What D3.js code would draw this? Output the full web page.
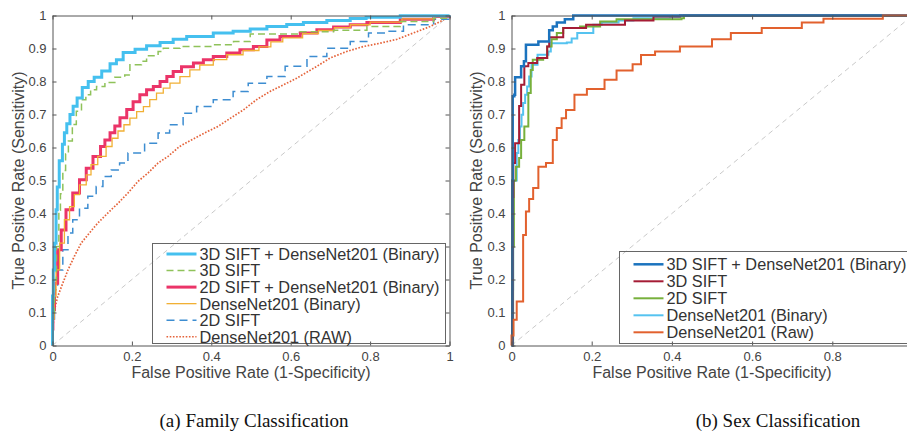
<!DOCTYPE html>
<html>
<head>
<meta charset="utf-8">
<script src="https://cdn.jsdelivr.net/npm/d3@7"></script>
<style>
  body { margin: 0; background: #fff; }
  svg { display: block; font-family: "Liberation Sans", Arial, sans-serif; }
  .domain, .tick line { stroke: #555; }
  .tick text { fill: #444; font-size: 13px; }
</style>
</head>
<body>
<svg id="chart" width="907" height="433"></svg>
<script>
// tick values shared by both panels
const xTicks = [0, 0.2, 0.4, 0.6, 0.8, 1];
const yTicks = [0, 0.1, 0.2, 0.3, 0.4, 0.5, 0.6, 0.7, 0.8, 0.9, 1];

const xLabel = "False Positive Rate (1-Specificity)";
const yLabel = "True Positive Rate (Sensitivity)";

// (a) family classification, [fpr, tpr] step corners
const famLegend = ["3D SIFT + DenseNet201 (Binary)", "3D SIFT", "2D SIFT + DenseNet201 (Binary)",
                   "DenseNet201 (Binary)", "2D SIFT", "DenseNet201 (RAW)"];

const fam3dSiftDense = [[0,0],[0,0.15],[0.002,0.229],[0.005,0.31],[0.009,0.411],[0.012,0.48],[0.017,0.56],
  [0.025,0.61],[0.03,0.645],[0.036,0.672],[0.044,0.7],[0.052,0.725],[0.062,0.75],[0.075,0.782],[0.09,0.8],
  [0.105,0.813],[0.124,0.832],[0.145,0.854],[0.161,0.866],[0.178,0.888],[0.208,0.898],[0.237,0.908],
  [0.271,0.918],[0.304,0.928],[0.338,0.936],[0.405,0.947],[0.455,0.952],[0.498,0.959],[0.54,0.967],
  [0.59,0.973],[0.632,0.979],[0.691,0.985],[0.75,0.991],[0.79,0.995],[0.876,0.999],[1,1]];

const fam3dSift = [[0,0],[0,0.1],[0.005,0.2],[0.01,0.3],[0.016,0.41],[0.02,0.46],[0.026,0.53],[0.033,0.58],
  [0.04,0.62],[0.05,0.67],[0.06,0.71],[0.073,0.745],[0.084,0.76],[0.096,0.775],[0.111,0.785],[0.132,0.797],
  [0.157,0.813],[0.182,0.82],[0.195,0.851],[0.224,0.861],[0.237,0.878],[0.266,0.891],[0.279,0.901],
  [0.321,0.906],[0.405,0.911],[0.456,0.921],[0.498,0.944],[0.624,0.951],[0.708,0.955],[0.792,0.967],
  [0.876,0.982],[0.96,0.992],[1,1]];

const fam2dSiftDense = [[0,0],[0,0.05],[0.001,0.108],[0.005,0.189],[0.013,0.29],[0.022,0.35],[0.034,0.411],
  [0.051,0.462],[0.068,0.502],[0.085,0.537],[0.102,0.573],[0.121,0.603],[0.132,0.623],[0.145,0.645],
  [0.157,0.665],[0.17,0.69],[0.187,0.715],[0.203,0.739],[0.22,0.76],[0.237,0.775],[0.254,0.785],
  [0.271,0.8],[0.288,0.815],[0.304,0.83],[0.325,0.845],[0.355,0.856],[0.38,0.866],[0.405,0.876],
  [0.439,0.886],[0.472,0.896],[0.506,0.906],[0.54,0.926],[0.573,0.936],[0.624,0.947],[0.666,0.957],
  [0.708,0.965],[0.75,0.972],[0.792,0.979],[0.876,0.989],[0.96,0.997],[1,1]];

const famDenseBinary = [[0,0],[0,0.08],[0.004,0.15],[0.009,0.229],[0.018,0.31],[0.03,0.381],[0.043,0.421],
  [0.055,0.457],[0.068,0.487],[0.085,0.517],[0.097,0.548],[0.114,0.573],[0.135,0.603],[0.15,0.628],
  [0.165,0.65],[0.18,0.669],[0.195,0.689],[0.212,0.709],[0.229,0.724],[0.245,0.745],[0.262,0.765],
  [0.279,0.78],[0.296,0.795],[0.321,0.815],[0.346,0.835],[0.371,0.85],[0.405,0.866],[0.439,0.881],
  [0.48,0.894],[0.52,0.905],[0.55,0.92],[0.58,0.932],[0.63,0.945],[0.67,0.955],[0.71,0.963],[0.75,0.972],
  [0.8,0.98],[0.88,0.99],[0.96,0.997],[1,1]];

const fam2dSift = [[0,0],[0,0.08],[0.005,0.169],[0.013,0.229],[0.026,0.29],[0.039,0.341],[0.051,0.381],
  [0.068,0.416],[0.089,0.452],[0.11,0.482],[0.127,0.512],[0.148,0.532],[0.169,0.553],[0.19,0.583],
  [0.232,0.613],[0.266,0.644],[0.295,0.669],[0.329,0.704],[0.363,0.724],[0.405,0.745],[0.455,0.77],
  [0.493,0.795],[0.54,0.815],[0.586,0.846],[0.641,0.876],[0.691,0.901],[0.75,0.921],[0.796,0.947],
  [0.842,0.952],[0.884,0.972],[0.96,0.989],[1,1]];

const famDenseRaw = [[0,0],[0,0.03],[0.002,0.068],[0.005,0.108],[0.013,0.148],[0.026,0.189],[0.039,0.229],
  [0.055,0.27],[0.072,0.31],[0.093,0.341],[0.114,0.371],[0.139,0.401],[0.165,0.431],[0.19,0.462],
  [0.215,0.497],[0.24,0.522],[0.266,0.553],[0.291,0.573],[0.32,0.603],[0.35,0.623],[0.383,0.644],
  [0.417,0.664],[0.446,0.687],[0.481,0.714],[0.514,0.745],[0.548,0.77],[0.582,0.79],[0.615,0.81],
  [0.666,0.846],[0.699,0.871],[0.741,0.891],[0.783,0.906],[0.825,0.916],[0.868,0.928],[0.909,0.947],
  [0.952,0.967],[0.985,0.987],[1,1]];

// (b) sex classification
const sexLegend = ["3D SIFT + DenseNet201 (Binary)", "3D SIFT", "2D SIFT", "DenseNet201 (Binary)", "DenseNet201 (Raw)"];

const sex3dSiftDense = [[0,0],[0.002,0.5],[0.003,0.755],[0.007,0.76],[0.009,0.813],[0.024,0.846],
  [0.031,0.861],[0.036,0.911],[0.067,0.921],[0.094,0.955],[0.103,0.967],[0.113,0.979],[0.133,0.989],
  [0.154,1],[1,1]];

const sex3dSift = [[0,0],[0.003,0.45],[0.0045,0.553],[0.009,0.613],[0.019,0.726],[0.024,0.79],
  [0.032,0.846],[0.042,0.856],[0.064,0.871],[0.089,0.906],[0.094,0.934],[0.129,0.962],[0.186,0.972],
  [0.283,0.985],[0.354,0.997],[0.42,1],[1,1]];

const sex2dSift = [[0,0],[0.004,0.3],[0.006,0.5],[0.011,0.542],[0.019,0.568],[0.024,0.623],[0.032,0.664],
  [0.042,0.765],[0.048,0.835],[0.053,0.866],[0.079,0.871],[0.089,0.906],[0.1,0.928],[0.113,0.947],
  [0.129,0.962],[0.171,0.967],[0.221,0.982],[0.262,0.989],[0.424,0.992],[0.43,1],[1,1]];

const sexDenseBinary = [[0,0],[0.002,0.17],[0.004,0.5],[0.013,0.583],[0.017,0.623],[0.021,0.664],
  [0.025,0.699],[0.029,0.735],[0.034,0.76],[0.039,0.785],[0.044,0.815],[0.05,0.851],[0.065,0.881],
  [0.092,0.891],[0.098,0.916],[0.138,0.918],[0.15,0.93],[0.164,0.947],[0.204,0.972],[0.225,0.979],
  [0.267,0.985],[0.304,0.992],[0.395,0.995],[0.42,1],[1,1]];

const sexDenseRaw = [[0,0],[0,0.03],[0.005,0.078],[0.013,0.133],[0.029,0.335],[0.036,0.406],[0.044,0.444],
  [0.054,0.477],[0.067,0.542],[0.086,0.553],[0.103,0.623],[0.113,0.659],[0.125,0.689],[0.136,0.714],
  [0.157,0.76],[0.188,0.777],[0.232,0.805],[0.262,0.833],[0.302,0.852],[0.323,0.88],[0.358,0.891],
  [0.42,0.906],[0.5,0.928],[0.547,0.947],[0.624,0.962],[0.724,0.979],[0.778,0.99],[0.926,1],[1,1]];

const captions = ["(a) Family Classification", "(b) Sex Classification"];

const svg = d3.select("#chart");
const svgWidth = +svg.attr("width");

function drawPanel(p) {
  const x = d3.scaleLinear().domain([0, 1]).range([p.left, p.right]);
  const y = d3.scaleLinear().domain([0, 1]).range([p.bottom, p.top]);
  const g = svg.append("g");
  const fmt = d => String(d);

  // chance diagonal
  g.append("line")
    .attr("x1", x(0)).attr("y1", y(0))
    .attr("x2", x(1)).attr("y2", y(1))
    .attr("stroke", "#c9c9c9")
    .attr("stroke-dasharray", "5,4");

  const line = d3.line().x(d => x(d[0])).y(d => y(d[1]));

  // draw in plot order (legend order differs)
  p.drawOrder.forEach(i => {
    const s = p.series[i];
    g.append("path")
      .datum(s.data)
      .attr("d", line.curve(s.curve || d3.curveStepAfter))
      .attr("fill", "none")
      .attr("stroke", s.color)
      .attr("stroke-width", s.width)
      .attr("stroke-dasharray", s.dash || null);
  });

  // box with inward ticks on all sides; panel (b) is cut at the page edge
  const shownX = xTicks.filter(t => x(t) + 6 < svgWidth);
  g.append("g").attr("transform", `translate(0,${p.bottom})`)
    .call(d3.axisBottom(x).tickValues(shownX).tickFormat(fmt).tickSizeInner(-4).tickSizeOuter(0).tickPadding(6));
  g.append("g").attr("transform", `translate(${p.left},0)`)
    .call(d3.axisLeft(y).tickValues(yTicks).tickFormat(fmt).tickSizeInner(-4).tickSizeOuter(0).tickPadding(6));
  g.append("g").attr("transform", `translate(0,${p.top})`)
    .call(d3.axisTop(x).tickValues(xTicks).tickFormat("").tickSizeInner(-4).tickSizeOuter(0));
  g.append("g").attr("transform", `translate(${p.right},0)`)
    .call(d3.axisRight(y).tickValues(yTicks).tickFormat("").tickSizeInner(-4).tickSizeOuter(0));

  g.append("text")
    .attr("x", (p.left + p.right) / 2)
    .attr("y", 378)
    .attr("text-anchor", "middle")
    .attr("font-size", 16)
    .attr("fill", "#444")
    .text(xLabel);

  g.append("text")
    .attr("transform", `translate(${p.yLabelX},${(p.top + p.bottom) / 2}) rotate(-90)`)
    .attr("text-anchor", "middle")
    .attr("dy", "0.35em")
    .attr("font-size", 16)
    .attr("fill", "#444")
    .text(yLabel);

  // legend (transparent box, the diagonal shows through)
  const lg = g.append("g");
  lg.append("rect")
    .attr("x", p.legend.x).attr("y", p.legend.y)
    .attr("width", p.legend.w).attr("height", p.legend.h)
    .attr("fill", "none").attr("stroke", "#666");
  p.series.forEach((s, i) => {
    const ry = p.legend.row0 + i * p.legend.step;
    lg.append("line")
      .attr("x1", p.legend.x + 14).attr("x2", p.legend.x + 44)
      .attr("y1", ry).attr("y2", ry)
      .attr("stroke", s.color)
      .attr("stroke-width", s.width)
      .attr("stroke-dasharray", s.dash || null);
    lg.append("text")
      .attr("x", p.legend.x + 47)
      .attr("y", ry)
      .attr("dy", "0.36em")
      .attr("font-size", 16.3)
      .attr("fill", "#333")
      .text(p.labels[i]);
  });

  svg.append("text")
    .attr("x", p.captionX)
    .attr("y", 427)
    .attr("text-anchor", "middle")
    .attr("font-family", "'Liberation Serif', 'Times New Roman', serif")
    .attr("font-size", 19)
    .attr("fill", "#111")
    .text(p.caption);
}

drawPanel({
  left: 52.5, right: 449.5, top: 15.5, bottom: 345.5,
  yLabelX: 18,
  captionX: 254,
  caption: captions[0],
  labels: famLegend,
  series: [
    {data: fam3dSiftDense, color: "#45C0EF", width: 3},
    {data: fam3dSift, color: "#8FC25A", width: 1.5, dash: "7,4"},
    {data: fam2dSiftDense, color: "#EB3468", width: 3},
    {data: famDenseBinary, color: "#F1B034", width: 1.3},
    {data: fam2dSift, color: "#3D8DD1", width: 1.5, dash: "8,5"},
    {data: famDenseRaw, color: "#E5633A", width: 1.7, dash: "1.6,1.6", curve: d3.curveLinear}
  ],
  drawOrder: [5, 4, 2, 3, 1, 0],
  legend: {x: 152.5, y: 243.5, w: 293, h: 100, row0: 254, step: 16.55}
});

drawPanel({
  left: 511.5, right: 912.5, top: 15.5, bottom: 345.5,
  yLabelX: 476,
  captionX: 778,
  caption: captions[1],
  labels: sexLegend,
  series: [
    {data: sex3dSiftDense, color: "#1B73BE", width: 2.5},
    {data: sex3dSift, color: "#A51C35", width: 2},
    {data: sex2dSift, color: "#77B03C", width: 2},
    {data: sexDenseBinary, color: "#55C3F0", width: 2},
    {data: sexDenseRaw, color: "#E2612E", width: 2}
  ],
  drawOrder: [3, 2, 1, 0, 4],
  legend: {x: 619.5, y: 251.5, w: 300, h: 92, row0: 264.3, step: 17}
});
</script>
</body>
</html>
